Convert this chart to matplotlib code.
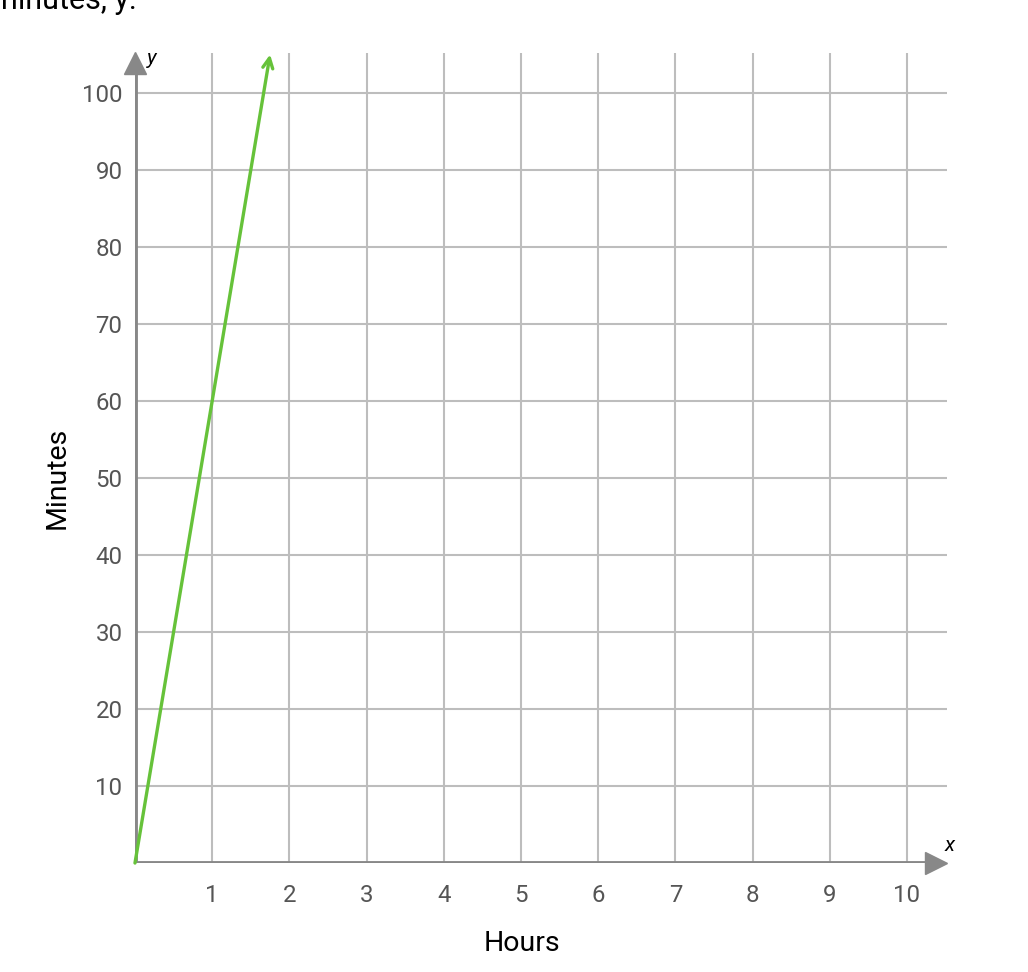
import matplotlib.pyplot as plt

plt.rcParams['font.family'] = ['Roboto', 'DejaVu Sans']

x_ticks = [1, 2, 3, 4, 5, 6, 7, 8, 9, 10]
y_ticks = [10, 20, 30, 40, 50, 60, 70, 80, 90, 100]
line_x = [0, 1.75]
line_y = [0, 105]

grid_col = '#bdbdbd'
axis_col = '#888888'
text_col = '#555555'
green = '#66c23a'

fig = plt.figure(figsize=(10.28, 9.72), dpi=100)
ax = fig.add_axes([0.1313, 0.1121, 0.796, 0.8358])
ax.set_xlim(0, 10.6)
ax.set_ylim(0, 105.5)
for s in ax.spines.values():
	s.set_visible(False)

# grid
ax.vlines(x_ticks, 0, 105.2, color=grid_col, lw=1.5, zorder=1)
ax.hlines(y_ticks, 0, 10.52, color=grid_col, lw=1.5, zorder=1)

# axes with arrow heads
ax.plot([0, 0], [0, 103], color=axis_col, lw=3.5, zorder=2, solid_capstyle='butt')
ax.plot([0, 10.3], [0, 0], color=axis_col, lw=3.5, zorder=2, solid_capstyle='butt')
ax.plot([0], [103.9], marker='^', ms=16, color=axis_col, clip_on=False, zorder=3)
ax.plot([10.38], [0], marker='>', ms=16, color=axis_col, clip_on=False, zorder=3)
ax.text(0.22, 104.5, 'y', style='italic', fontsize=15, ha='center', va='center', color='black')
ax.text(10.55, 2.3, 'x', style='italic', fontsize=15, ha='center', va='center', color='black')

# ticks
ax.set_xticks(x_ticks)
ax.set_yticks(y_ticks)
ax.tick_params(length=0, labelsize=17.3, labelcolor=text_col)
ax.tick_params(axis='x', pad=15)
ax.tick_params(axis='y', pad=9)

ax.set_xlabel('Hours', fontsize=20.5, color='black')
ax.xaxis.set_label_coords(5.01 / 10.6, -0.082)
ax.set_ylabel('Minutes', fontsize=20.5, color='black')
ax.yaxis.set_label_coords(-0.079, 50 / 105.5)

# the line
ax.annotate('', xy=(line_x[1], line_y[1]), xytext=(line_x[0], line_y[0]),
			arrowprops=dict(arrowstyle='->', color=green, lw=2.4, mutation_scale=18,
							shrinkA=0, shrinkB=0), zorder=4, annotation_clip=False)

fig.text(137 / 1028, 1 - 9 / 972, 'minutes, y.', fontsize=22, ha='right', va='baseline', color='black')

fig.savefig('out.png', dpi=100, facecolor='white')
